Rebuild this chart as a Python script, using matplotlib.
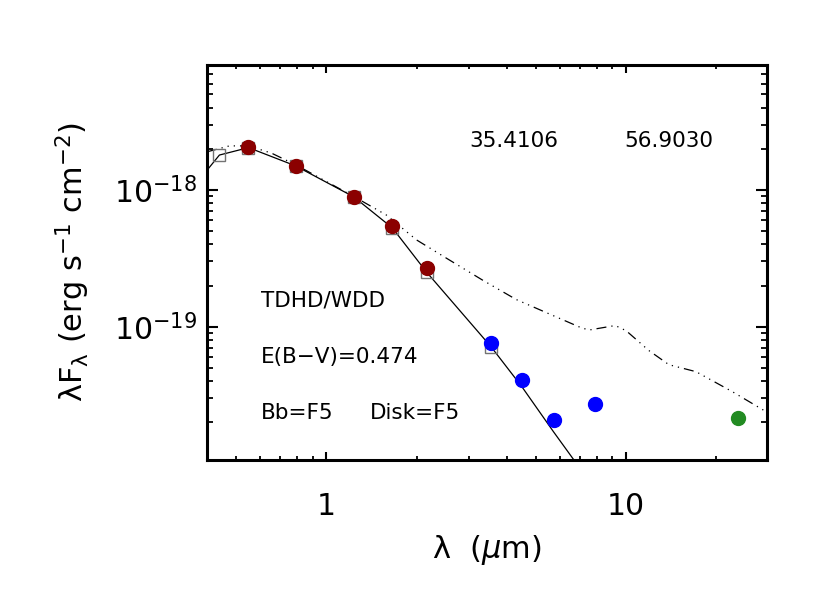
import matplotlib
matplotlib.use("Agg")
import matplotlib.pyplot as plt
from matplotlib.ticker import LogLocator, NullFormatter, FixedLocator

plt.rcParams['font.family'] = ['DejaVu Sans']

# ---------------------------------------------------
# SED data (wavelength in micron, lambda*F_lambda)
# ---------------------------------------------------
# optical / near-IR photometry
opt_wave = [0.55, 0.79, 1.235, 1.662, 2.159]
opt_flux = [2.06e-18, 1.50e-18, 8.89e-19, 5.45e-19, 2.69e-19]

# IRAC photometry
irac_wave = [3.55, 4.49, 5.73, 7.87]
irac_flux = [7.63e-20, 4.09e-20, 2.09e-20, 2.73e-20]

# MIPS 24 micron
mips_wave = [23.7]
mips_flux = [2.16e-20]

# photosphere model (solid line) and model points (squares)
model_wave = [0.36, 0.44, 0.55, 0.79, 1.235, 1.662, 2.159, 3.55, 4.49, 5.73, 7.87]
model_flux = [1.05e-18, 1.80e-18, 2.04e-18, 1.50e-18, 8.9e-19, 5.27e-19, 2.51e-19,
              7.1e-20, 3.64e-20, 1.70e-20, 6.5e-21]
square_wave = [0.44, 0.55, 0.79, 1.235, 1.662, 2.159, 3.55]
square_flux = [1.80e-18, 2.04e-18, 1.50e-18, 8.9e-19, 5.27e-19, 2.51e-19, 7.1e-20]

# star + disk model (dash dot dot dot line)
disk_wave = [0.40, 0.475, 0.55, 0.656, 0.794, 1.26, 1.585, 2.0, 2.57, 3.31, 4.30,
             5.84, 7.1, 7.53, 9.2, 10.0, 11.9, 13.9, 17.1, 22.6, 29.3]
disk_flux = [1.90e-18, 2.10e-18, 2.10e-18, 1.86e-18, 1.52e-18, 8.74e-19, 6.56e-19,
             4.31e-19, 3.08e-19, 2.20e-19, 1.58e-19, 1.18e-19, 9.8e-20, 9.46e-20,
             1.02e-19, 9.35e-20, 6.7e-20, 5.27e-20, 4.69e-20, 3.35e-20, 2.39e-20]

fig = plt.figure(figsize=(8.3, 5.93), dpi=100)
ax = fig.add_axes([0.2494, 0.2243, 0.6747, 0.6661])

ax.plot(model_wave, model_flux, color='black', lw=0.9, zorder=2)
ax.plot(disk_wave, disk_flux, color='black', lw=0.9,
        linestyle=(0, (8, 4, 1, 4, 1, 4, 1, 4)), zorder=2)
ax.plot(square_wave, square_flux, 's', ms=8, mfc='none', mec='0.45', mew=1.0, zorder=3)
ax.plot(opt_wave, opt_flux, 'o', ms=10, color='#8b0000', zorder=4)
ax.plot(irac_wave, irac_flux, 'o', ms=10, color='#0000ff', zorder=4)
ax.plot(mips_wave, mips_flux, 'o', ms=10, color='#228b22', zorder=4)

ax.set_xscale('log')
ax.set_yscale('log')
ax.set_xlim(0.4, 29.5)
ax.set_ylim(1.06e-20, 8.2e-18)

ax.set_xticks([1, 10], labels=['1', '10'])
ax.xaxis.set_minor_locator(LogLocator(base=10, subs=range(2, 10)))
ax.xaxis.set_minor_formatter(NullFormatter())
ax.yaxis.set_major_locator(FixedLocator([1e-19, 1e-18]))
ax.yaxis.set_minor_locator(LogLocator(base=10, subs=range(2, 10)))
ax.yaxis.set_minor_formatter(NullFormatter())

for s in ax.spines.values():
    s.set_linewidth(2.2)
ax.tick_params(which='both', direction='in', top=True, right=True, labelsize=21.5)
ax.tick_params(axis='x', which='major', length=5.8, width=1.5, pad=23)
ax.tick_params(axis='x', which='minor', length=3.0, width=1.3)
ax.tick_params(axis='y', which='major', length=8.0, width=1.5, pad=7)
ax.tick_params(axis='y', which='minor', length=4.5, width=1.3)

ax.set_xlabel(r'λ  ($\mu$m)', fontsize=22, labelpad=9)
ax.set_ylabel(r'λF$_{\mathregular{λ}}$ (erg s$^{-1}$ cm$^{-2}$)', fontsize=22, labelpad=16)

ax.text(0.468, 0.808, '35.4106', transform=ax.transAxes, fontsize=15.5, va='center')
ax.text(0.746, 0.808, '56.9030', transform=ax.transAxes, fontsize=15.5, va='center')
ax.text(0.096, 0.403, 'TDHD/WDD', transform=ax.transAxes, fontsize=15.5, va='center')
ax.text(0.096, 0.261, 'E(B−V)=0.474', transform=ax.transAxes, fontsize=15.5, va='center')
ax.text(0.096, 0.119, 'Bb=F5', transform=ax.transAxes, fontsize=15.5, va='center')
ax.text(0.291, 0.119, 'Disk=F5', transform=ax.transAxes, fontsize=15.5, va='center')

fig.savefig('out.png', dpi=100)
